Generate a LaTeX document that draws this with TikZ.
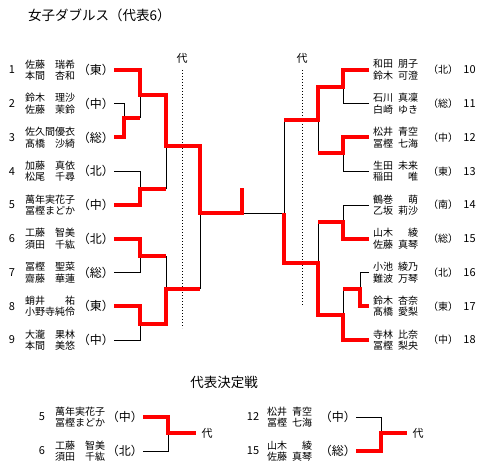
\documentclass[tikz,border=0pt]{standalone}
\usepackage{fontspec}
\setmainfont{Noto Sans CJK JP}
\definecolor{winred}{RGB}{255, 0, 0}
\newcommand{\halfsp}{\hspace{.5em}}

\begin{document}
\begin{tikzpicture}[x=1pt, y=-1pt,
    win/.style={winred, line width=4pt},
    lose/.style={black, line width=1pt},
    guide/.style={black, line width=1pt, dash pattern=on 1pt off 2pt},
    namebox/.style={inner sep=0pt, align=left, font=\fontsize{10}{11.5}\selectfont},
    numbox/.style={inner sep=0pt, font=\fontsize{11}{11}\selectfont},
    regbig/.style={inner sep=0pt, font=\fontsize{12}{12}\selectfont},
    regsmall/.style={inner sep=0pt, font=\fontsize{10}{10}\selectfont},
    dai/.style={inner xsep=5.5pt, inner ysep=0pt, font=\fontsize{11}{11}\selectfont},
    heading/.style={inner sep=0pt, font=\fontsize{13.5}{14}\selectfont}]
    \fill[white] (0,0) rectangle (484,473);
    \useasboundingbox (0,0) rectangle (484,473);

    % Titles
    \node[heading, anchor=west] (title) at (28,15) {女子ダブルス（代表6）};
    \node[heading] (final) at (224,382) {代表決定戦};

    % Left block
    \foreach \n/\nmA/\nmB/\where in {1/佐藤　瑞希/本間　杏和/東, 2/鈴木　理沙/佐藤　茉鈴/中,
        3/佐久間優衣/髙橋　沙綺/総, 4/加藤　真依/松尾　千尋/北, 5/萬年実花子/冨樫まどか/中,
        6/工藤　智美/須田　千紘/北, 7/冨樫　聖菜/齋藤　華蓮/総, 8/蛸井　　祐/小野寺純伶/東,
        9/大瀧　果林/本間　美悠/中} {
        \pgfmathsetmacro\yy{70+(\n-1)*33.75}
        \node[numbox] (no\n) at (12,\yy) {\n};
        \node[namebox, anchor=west] (nm\n) at (25,\yy) {\nmA\\\nmB};
        \node[regbig, anchor=east] (reg\n) at (114,\yy) {（\where）};
    }

    % Right block
    \foreach \n/\nmA/\nmB/\where in {10/和田\halfsp 朋子/鈴木\halfsp 可澄/北, 11/石川\halfsp 真凜/白崎\halfsp ゆき/総,
        12/松井\halfsp 青空/冨樫\halfsp 七海/中, 13/生田\halfsp 未来/稲田\halfsp　唯/東,
        14/鶴巻\halfsp　萌/乙坂\halfsp 莉沙/南, 15/山木\halfsp　綾/佐藤\halfsp 真琴/総,
        16/小池\halfsp 綾乃/難波\halfsp 万琴/北, 17/鈴木\halfsp 杏奈/髙橋\halfsp 愛梨/東,
        18/寺林\halfsp 比奈/冨樫\halfsp 梨央/中} {
        \pgfmathsetmacro\yy{70+(\n-10)*33.75}
        \node[namebox, anchor=west, inner xsep=4pt] (nm\n) at (369,\yy) {\nmA\\\nmB};
        \node[regsmall] (reg\n) at (443,\yy) {（\where）};
        \node[numbox] (no\n) at (469.5,\yy) {\n};
    }

    % Representative marks
    \node[dai] (dai1) at (182,58) {代};
    \node[dai] (dai2) at (302,58) {代};
    \draw[guide] (182,70) -- (182,328);
    \draw[guide] (302,70) -- (302,305);

    % Losing lines, left
    \draw[lose] (reg2.east) -| (124,118);
    \draw[lose] (140,95) -- (140,118);
    \draw[lose] (reg4.east) -| (140,189);
    \draw[lose] (166,146) -- (166,189);
    \draw[lose] (reg7.east) -| (140,256);
    \draw[lose] (reg9.east) -| (140,324);
    \draw[lose] (166,256) -- (166,289);
    \draw[lose] (200,213) -- (200,289);
    \draw[lose] (242,213) -- (284,213);

    % Losing lines, right
    \draw[lose] (nm11.west) -| (343,87);
    \draw[lose] (nm13.west) -| (343,153);
    \draw[lose] (318,120) -- (318,153);
    \draw[lose] (284,120) -- (284,213);
    \draw[lose] (nm14.west) -| (343,222);
    \draw[lose] (nm16.west) -| (360,289);
    \draw[lose] (343,289) -- (343,315);
    \draw[lose] (318,222) -- (318,263);

    % Winning lines, left
    \draw[win] (reg1.east) -| (140,95) -| (166,146) -| (200,213) -| (242,188);
    \draw[win] (reg3.east) -| (124,118) -- (140,118);
    \draw[win] (reg5.east) -| (140,189) -- (166,189);
    \draw[win] (reg6.east) -| (140,256) -- (166,256);
    \draw[win] (reg8.east) -| (140,324) -| (166,289) -- (200,289);

    % Winning lines, right
    \draw[win] (nm10.west) -| (343,87) -| (318,120) -- (284,120);
    \draw[win] (nm12.west) -| (343,153) -- (318,153);
    \draw[win] (nm15.west) -| (343,222) -- (318,222);
    \draw[win] (nm17.west) -| (360,289) -- (343,289);
    \draw[win] (nm18.west) -| (343,315) -| (318,263) -| (284,213);

    % Playoff
    \node[numbox] (bno5) at (42,417) {5};
    \node[namebox, anchor=west] (bnm5) at (55,417) {萬年実花子\\冨樫まどか};
    \node[regbig, anchor=east] (breg5) at (143,417) {（中）};
    \node[numbox] (bno6) at (42,451) {6};
    \node[namebox, anchor=west] (bnm6) at (55,451) {工藤　智美\\須田　千紘};
    \node[regbig, anchor=east] (breg6) at (143,451) {（北）};
    \node[dai] (dai3) at (207,433) {代};

    \node[numbox] (bno12) at (253,417) {12};
    \node[namebox, anchor=west] (bnm12) at (267,417) {松井\halfsp 青空\\冨樫\halfsp 七海};
    \node[regbig, anchor=east] (breg12) at (356,417) {（中）};
    \node[numbox] (bno15) at (253,451) {15};
    \node[namebox, anchor=west] (bnm15) at (267,451) {山木\halfsp　綾\\佐藤\halfsp 真琴};
    \node[regbig, anchor=east] (breg15) at (356,451) {（総）};
    \node[dai] (dai4) at (418,433) {代};

    \draw[lose] (breg6.east) -| (168,433);
    \draw[win] (breg5.east) -| (168,433) -- (dai3.west);
    \draw[lose] (breg12.east) -| (381,433);
    \draw[win] (breg15.east) -| (381,433) -- (dai4.west);
\end{tikzpicture}
\end{document}
